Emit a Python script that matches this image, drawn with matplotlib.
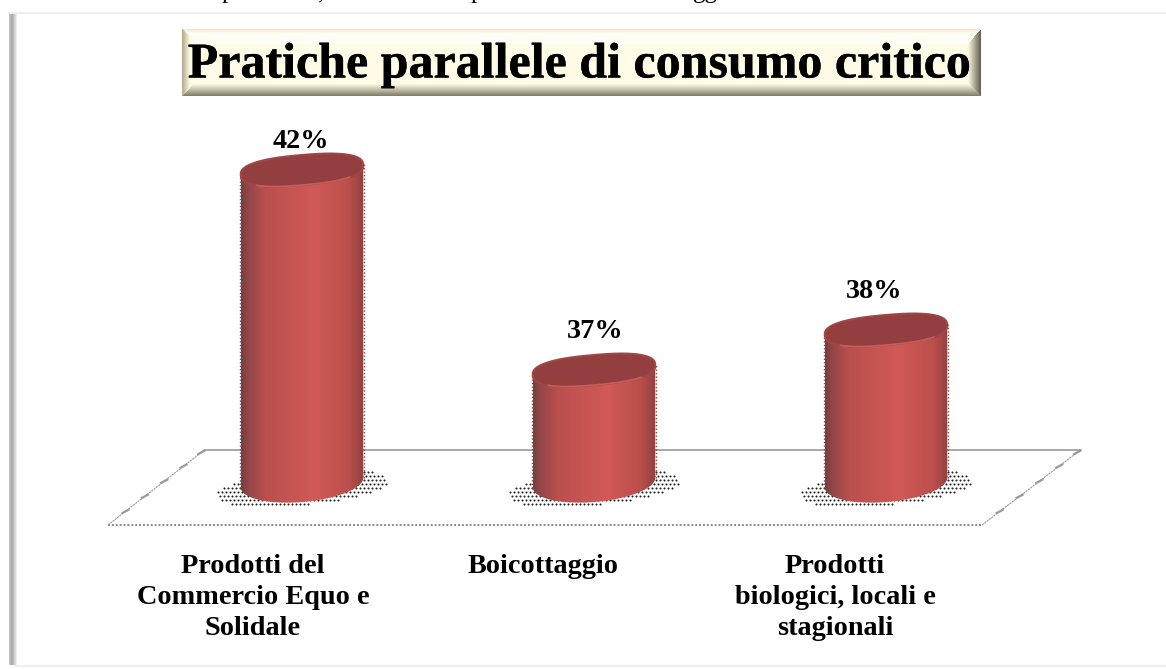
import matplotlib
matplotlib.use('Agg')
import matplotlib.pyplot as plt
import matplotlib.patheffects as pe
from matplotlib.colors import LinearSegmentedColormap
from matplotlib.patches import Polygon
import numpy as np

title = 'Pratiche parallele di consumo critico'
categories = ['Prodotti del\nCommercio Equo e\nSolidale', 'Boicottaggio', 'Prodotti\nbiologici, locali e\nstagionali']
values = [42, 37, 38]
value_labels = ['42%', '37%', '38%']

W, H = 1166, 669
PX_X = 292.0  # pixels per category
PX_Y = 40.0   # pixels per percent

plt.rcParams['font.family'] = ['Liberation Serif', 'DejaVu Serif']
fig = plt.figure(figsize=(W / 100, H / 100), dpi=100, facecolor='white')

# overlay in pixel coords, for frame and floor
bg = fig.add_axes([0, 0, 1, 1])
bg.set_xlim(0, W)
bg.set_ylim(H, 0)
bg.axis('off')

# slide frame
shadow = np.linspace(0, 1, 8).reshape(1, -1)
cmap_shadow = LinearSegmentedColormap.from_list('sh', ['#c4c4c4', '#a6a6a6', '#d4d4d4', '#ffffff'])
bg.imshow(shadow, extent=(9, 18, 665, 14), cmap=cmap_shadow, aspect='auto', zorder=1)
bg.plot([9, W], [13, 13], color='#eeeeee', lw=1.5, zorder=1)
bg.plot([15, W], [666, 666], color='#eeeeee', lw=1.5, zorder=1)

# bit of the sentence above the frame, only descenders show
for txt, x in [('p', 228), (',', 321), ('p', 477), ('gg', 705)]:
    bg.text(x, -2, txt, fontsize=18, ha='center', va='baseline', color='black', zorder=2, clip_on=True)

# title box with bevel
bx0, bx1, by0, by1 = 182, 981, 29, 96
bw, bh = bx1 - bx0, by1 - by0
yy, xx = np.mgrid[0:bh, 0:bw]
dt, db, dl, dr = yy + 0.5, bh - yy - 0.5, xx + 0.5, bw - xx - 0.5
face = np.array([255, 251, 230]) / 255
img = np.ones((bh, bw, 3)) * face


def ramp(dist, width, edge, inner):
    t = np.clip(dist / width, 0, 1)[..., None]
    return np.array(edge) / 255 * (1 - t) + np.array(inner) / 255 * t


top = ramp(dt, 4, (246, 226, 190), (255, 254, 246))
bot = ramp(db, 12, (128, 122, 100), (255, 251, 230))
lef = ramp(dl, 8, (176, 168, 138), (255, 251, 230))
rig = ramp(dr, 13, (96, 92, 78), (255, 251, 230))
mask_t = (dt < 15) & (dt < dl) & (dt < dr * 1.15)
mask_b = (db < 12) & (db <= dl) & (db <= dr)
mask_l = (dl < 8) & (dl <= dt) & (dl <= db)
mask_r = (dr < 13) & (dr * 1.15 <= dt) & (dr < db)
img[mask_t] = top[mask_t]
img[mask_b] = bot[mask_b]
img[mask_l] = lef[mask_l]
img[mask_r] = rig[mask_r]
bg.imshow(img, extent=(bx0, bx1, by1, by0), aspect='auto', zorder=2)
bg.text((bx0 + bx1) / 2 - 2, 77.5, title, fontsize=36, fontweight='bold', ha='center', va='baseline',
        color='black', zorder=3, path_effects=[pe.withStroke(linewidth=0.25, foreground='black')])

# floor
bg.plot([205, 1081], [449.5, 449.5], color='#9a9a9a', lw=1.2, zorder=2)
bg.plot([108, 982], [525, 525], color='#8a8a8a', lw=1.4, ls=(0, (1, 1)), zorder=2)
bg.plot([108, 205], [525, 449.5], color='#9a9a9a', lw=0.8, ls=(0, (2, 0.6)), zorder=2)
bg.plot([982, 1081], [525, 449.5], color='#9a9a9a', lw=0.8, ls=(0, (2, 0.6)), zorder=2)
for frac in [0.18, 0.38, 0.58, 0.78, 0.96]:
    for x0, x1 in [(108, 205), (982, 1081)]:
        px = x0 + (x1 - x0) * frac
        py = 525 + (449.5 - 525) * frac
        bg.plot([px - 3, px + 3], [py + 1.6, py - 1.6], color='#9a9a9a', lw=1.6, zorder=2)

bg.set_xlim(0, W)
bg.set_ylim(H, 0)

# chart axes: 3 categories, percent on y
ax = fig.add_axes([156 / W, (H - 520) / H, 876 / W, 400 / H])
ax.patch.set_alpha(0)
ax.axis('off')

body_cmap = LinearSegmentedColormap.from_list('body', [
    (0.0, '#75403f'), (0.06, '#94464a'), (0.2, '#ba4f4e'), (0.6, '#d05a57'),
    (0.88, '#bb4e4c'), (1.0, '#8f4141')])
gradient = np.linspace(0, 1, 256).reshape(1, -1)

A_TOP, B_TOP, ANG_TOP = 61.5, 15.0, np.radians(5)
A_BOT, B_BOT, ANG_BOT = 61.5, 19.5, np.radians(5)
BASE_Y = 33.25 + (520 - 482.5) / PX_Y  # percent value where the cylinders stand


def ellipse_px(a, b, ang, t, power=1.0):
    # power under 1 squares the ellipse a bit, the top faces are like that
    c = np.sign(np.cos(t)) * np.abs(np.cos(t)) ** power
    s = np.sign(np.sin(t)) * np.abs(np.sin(t)) ** power
    dx = a * c * np.cos(ang) - b * s * np.sin(ang)
    dy = a * c * np.sin(ang) + b * s * np.cos(ang)
    return dx, dy


def to_data(i, v, dx, dy):
    return np.column_stack([i + dx / PX_X, v + dy / PX_Y])


t_full = np.linspace(0, 2 * np.pi, 160)
t_low = np.linspace(np.pi, 2 * np.pi, 80)
t_mid = np.linspace(1.25 * np.pi, 1.75 * np.pi, 50)
t_up = np.linspace(0, np.pi, 80)

for i, v in enumerate(values):
    # stippled shadow on the floor
    gx, gy = np.meshgrid(np.arange(-88, 90, 4.0), np.arange(-28, 30, 4.0))
    gx = gx + (np.arange(gy.shape[0]) % 2)[:, None] * 2.0
    inside = ((gx / 86) ** 2 + ((gy - gx * 0.09) / 17) ** 2) < 1
    pts = to_data(i, BASE_Y, gx[inside], gy[inside] - 5)
    ax.scatter(pts[:, 0], pts[:, 1], s=2.2, color='#222222', linewidths=0, zorder=2)

    # body
    dx_b, dy_b = ellipse_px(A_BOT, B_BOT, ANG_BOT, t_low)
    dx_t, dy_t = ellipse_px(A_TOP, B_TOP, ANG_TOP, t_up, 0.8)
    outline = np.vstack([to_data(i, BASE_Y, dx_b, dy_b), to_data(i, v, dx_t, dy_t)])
    body = Polygon(outline, closed=True, facecolor='none', edgecolor='none', zorder=3)
    ax.add_patch(body)
    x_half = 61.5 / PX_X
    im = ax.imshow(gradient, extent=(i - x_half, i + x_half, BASE_Y - 22 / PX_Y, v + 20 / PX_Y),
                   cmap=body_cmap, aspect='auto', zorder=3)
    im.set_clip_path(body)

    # dotted rough edge at the sides
    for sgn in (-1, 1):
        ax.plot([i + sgn * (x_half + 0.5 / PX_X)] * 2, [BASE_Y + sgn * 5 / PX_Y, v + sgn * 6 / PX_Y],
                color='#85484a', lw=1.0, ls=(0, (1, 1.5)), zorder=4)

    # top face and its light rim
    dx, dy = ellipse_px(A_TOP, B_TOP, ANG_TOP, t_full, 0.8)
    rim_x, rim_y = ellipse_px(A_TOP, B_TOP, ANG_TOP, t_mid, 0.8)
    ax.add_patch(Polygon(to_data(i, v, dx, dy), closed=True, facecolor='#933f3f', edgecolor='#a04646',
                         lw=1.4, zorder=5))
    rim = to_data(i, v, rim_x, rim_y)
    ax.plot(rim[:, 0], rim[:, 1], color='#d4625e', lw=1.2, alpha=0.8, zorder=6)

# value labels
label_dx = [-1, 1, -12]
label_dy = [29, 38, 38]
for i, v in enumerate(values):
    ax.annotate(value_labels[i], (i, v), xytext=(label_dx[i] * 0.72, label_dy[i] * 0.72),
                textcoords='offset points', fontsize=20.3, fontweight='bold', ha='center', va='center',
                zorder=7)

# category labels, left of the column centres like in original
cat_dx = [-49, -51.5, -51]
for i, cat in enumerate(categories):
    cat_y = 33.25 - (554 - 520) / PX_Y
    ax.text(i + cat_dx[i] / PX_X, cat_y, cat, fontsize=20.3, fontweight='bold', ha='center', va='top',
            linespacing=1.31, clip_on=False, zorder=7)

ax.set_xlim(-0.5, 2.5)
ax.set_ylim(33.25, 43.25)

fig.savefig('out.png', dpi=100)
